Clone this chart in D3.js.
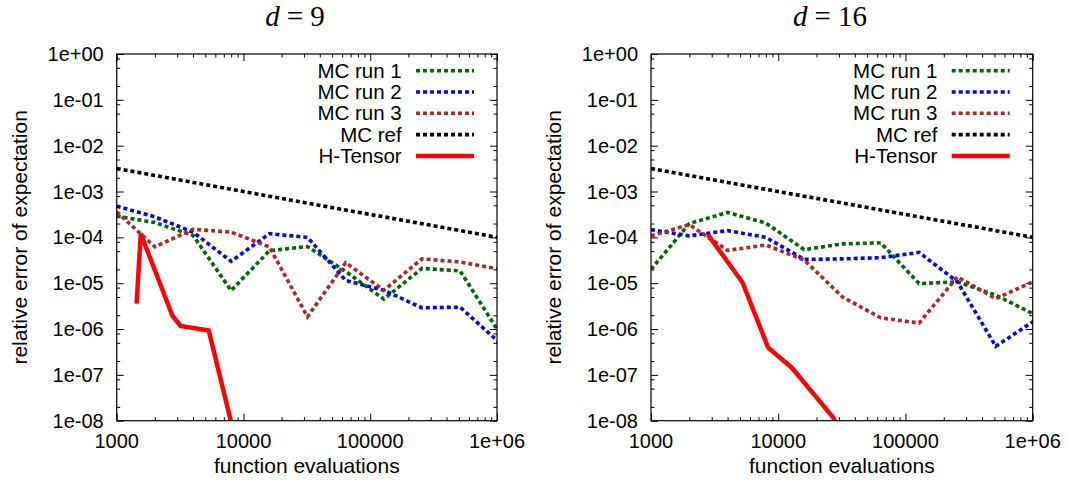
<!DOCTYPE html>
<html>
<head>
<meta charset="utf-8">
<script src="https://cdn.jsdelivr.net/npm/d3@7"></script>
<style>
body { margin: 0; background: #fff; }
svg { display: block; }
text { font-family: "Liberation Sans", Arial, Helvetica, sans-serif; fill: #000; }
</style>
</head>
<body>
<svg id="chart" width="1069" height="489"></svg>
<script>
// MC sample sizes (doubling) and the reference rate
var evals = [1000, 2000, 4000, 8000, 16000, 32000, 64000, 128000, 256000, 512000, 1024000];
var mcRef = [3.16e-3, 2.24e-3, 1.58e-3, 1.12e-3, 7.9e-4, 5.6e-4, 3.95e-4, 2.8e-4, 1.98e-4, 1.4e-4, 9.9e-5];

// d = 9
var run1D9 = [2.9e-4, 2.1e-4, 1.1e-4, 6.9e-6, 5.1e-5, 6.3e-5, 1.8e-5, 4.5e-6, 2.1e-5, 1.85e-5, 9e-7];
var run2D9 = [4.8e-4, 2.8e-4, 1.3e-4, 3.0e-5, 1.2e-4, 1.0e-4, 1.15e-5, 7e-6, 2.9e-6, 3.0e-6, 5.3e-7];
var run3D9 = [3.6e-4, 6.2e-5, 1.5e-4, 1.3e-4, 6.2e-5, 1.85e-6, 2.8e-5, 7e-6, 3.4e-5, 2.9e-5, 2.05e-5];
var htEvalsD9 = [1435, 1550, 2750, 3190, 5320, 8100];
var htD9 = [3.6e-6, 1.2e-4, 1.95e-6, 1.17e-6, 9.3e-7, 8e-9];

// d = 16
var run1D16 = [2.0e-5, 2.0e-4, 3.5e-4, 2.05e-4, 5.4e-5, 7.2e-5, 7.6e-5, 9.8e-6, 1.07e-5, 5.5e-6, 2.1e-6];
var run2D16 = [1.47e-4, 1.08e-4, 1.4e-4, 1.0e-4, 3.3e-5, 3.4e-5, 3.6e-5, 4.7e-5, 1.07e-5, 4.2e-7, 1.5e-6];
var run3D16 = [1.08e-4, 1.9e-4, 5.2e-5, 6.8e-5, 3.2e-5, 5.0e-6, 1.75e-6, 1.35e-6, 1.37e-5, 4.6e-6, 1.1e-5];
var htEvalsD16 = [2800, 5230, 8340, 12740, 27200, 30000];
var htD16 = [1.15e-4, 1.05e-5, 3.9e-7, 1.45e-7, 1.15e-8, 6e-9];

var legendNames = ["MC run 1", "MC run 2", "MC run 3", "MC ref", "H-Tensor"];
var colors = ["#006400", "#0000ff", "#a52a2a", "#000000", "#ff0000"];

var xTickValues = [1000, 10000, 100000, 1000000];
var xTickLabels = ["1000", "10000", "100000", "1e+06"];
var yTickValues = [1, 1e-1, 1e-2, 1e-3, 1e-4, 1e-5, 1e-6, 1e-7, 1e-8];
var yTickLabels = ["1e+00", "1e-01", "1e-02", "1e-03", "1e-04", "1e-05", "1e-06", "1e-07", "1e-08"];

var svg = d3.select("#chart");
var plotTop = 54, plotBottom = 420.7;

function minorTicks(lo, hi, steps) {
	var out = [];
	for (var e = lo; e < hi; e++) {
		steps.forEach(function(s) { out.push(s * Math.pow(10, e)); });
	}
	return out;
}

function drawPanel(id, left, right, titleX, dim, runs, htX, htY) {
	var g = svg.append("g");
	var x = d3.scaleLog().domain([1000, 1e6]).range([left, right]);
	var y = d3.scaleLog().domain([1e-8, 1]).range([plotBottom, plotTop]);

	g.append("clipPath").attr("id", id)
		.append("rect")
		.attr("x", left).attr("y", plotTop)
		.attr("width", right - left).attr("height", plotBottom - plotTop);

	// ticks, all inward, mirrored on four sides
	var xMinor = minorTicks(3, 6, [2, 3, 4, 5, 6, 7, 8, 9]);
	var yMinor = minorTicks(-8, 0, [2, 5, 8]);

	function ticks(axis, scale, major, minor, pos) {
		var a = axis(scale).tickValues(minor).tickSize(-3.5).tickFormat("");
		var b = axis(scale).tickValues(major).tickSize(-7).tickFormat("");
		g.append("g").attr("transform", pos).call(a).call(function(s) { s.select(".domain").remove(); });
		g.append("g").attr("transform", pos).call(b).call(function(s) { s.select(".domain").remove(); });
	}
	ticks(d3.axisBottom, x, xTickValues, xMinor, "translate(0," + plotBottom + ")");
	ticks(d3.axisTop, x, xTickValues, xMinor, "translate(0," + plotTop + ")");
	ticks(d3.axisLeft, y, yTickValues, yMinor, "translate(" + left + ",0)");
	ticks(d3.axisRight, y, yTickValues, yMinor, "translate(" + right + ",0)");
	g.selectAll(".tick line").attr("stroke", "#000").attr("stroke-width", 1);

	// tick labels
	g.selectAll(".xlab").data(xTickValues).enter().append("text")
		.attr("x", function(d) { return x(d); })
		.attr("y", 448)
		.attr("text-anchor", "middle")
		.style("font-size", "20px")
		.text(function(d, i) { return xTickLabels[i]; });
	g.selectAll(".ylab").data(yTickValues).enter().append("text")
		.attr("x", left - 13)
		.attr("y", function(d) { return y(d) + 7; })
		.attr("text-anchor", "end")
		.style("font-size", "20px")
		.text(function(d, i) { return yTickLabels[i]; });

	// axis titles
	g.append("text")
		.attr("x", (left + right) / 2).attr("y", 473)
		.attr("text-anchor", "middle")
		.style("font-size", "21px")
		.text("function evaluations");
	g.append("text")
		.attr("transform", "translate(" + (left - 90) + "," + ((plotTop + plotBottom) / 2) + ") rotate(-90)")
		.attr("text-anchor", "middle")
		.style("font-size", "21px")
		.text("relative error of expectation");

	// panel title
	var t = g.append("text")
		.attr("x", titleX).attr("y", 26)
		.attr("text-anchor", "middle")
		.style("font-family", "'Liberation Serif', 'Times New Roman', serif")
		.style("font-size", "29px");
	t.append("tspan").style("font-style", "italic").text("d");
	t.append("tspan").attr("dx", 7).text("=");
	t.append("tspan").attr("dx", 7).text(dim);

	// data lines
	var line = d3.line()
		.x(function(d) { return x(d[0]); })
		.y(function(d) { return y(d[1]); });
	var series = runs.concat([mcRef]).map(function(vals) {
		return evals.map(function(e, i) { return [e, vals[i]]; });
	});
	series.push(htX.map(function(e, i) { return [e, htY[i]]; }));

	var plot = g.append("g").attr("clip-path", "url(#" + id + ")");
	series.forEach(function(s, i) {
		plot.append("path")
			.attr("d", line(s))
			.attr("fill", "none")
			.attr("stroke", colors[i])
			.attr("stroke-width", i == 4 ? 4.5 : 3.6)
			.attr("stroke-dasharray", i == 4 ? null : "4,3")
			.attr("stroke-linejoin", "miter");
	});

	// legend
	var leg = g.append("g");
	legendNames.forEach(function(name, i) {
		var ly = plotTop + 16.7 + i * 21.3;
		leg.append("text")
			.attr("x", right - 95.3).attr("y", ly + 7)
			.attr("text-anchor", "end")
			.style("font-size", "20.5px")
			.text(name);
		leg.append("line")
			.attr("x1", right - 81).attr("x2", right - 23)
			.attr("y1", ly).attr("y2", ly)
			.attr("stroke", colors[i])
			.attr("stroke-width", i == 4 ? 4.5 : 3.6)
			.attr("stroke-dasharray", i == 4 ? null : "4,3");
	});

	// frame
	g.append("rect")
		.attr("x", left).attr("y", plotTop)
		.attr("width", right - left).attr("height", plotBottom - plotTop)
		.attr("fill", "none").attr("stroke", "#000").attr("stroke-width", 1.2);
}

drawPanel("clipD9", 116.7, 497, 295, "9", [run1D9, run2D9, run3D9], htEvalsD9, htD9);
drawPanel("clipD16", 651, 1032.7, 830, "16", [run1D16, run2D16, run3D16], htEvalsD16, htD16);
</script>
</body>
</html>
